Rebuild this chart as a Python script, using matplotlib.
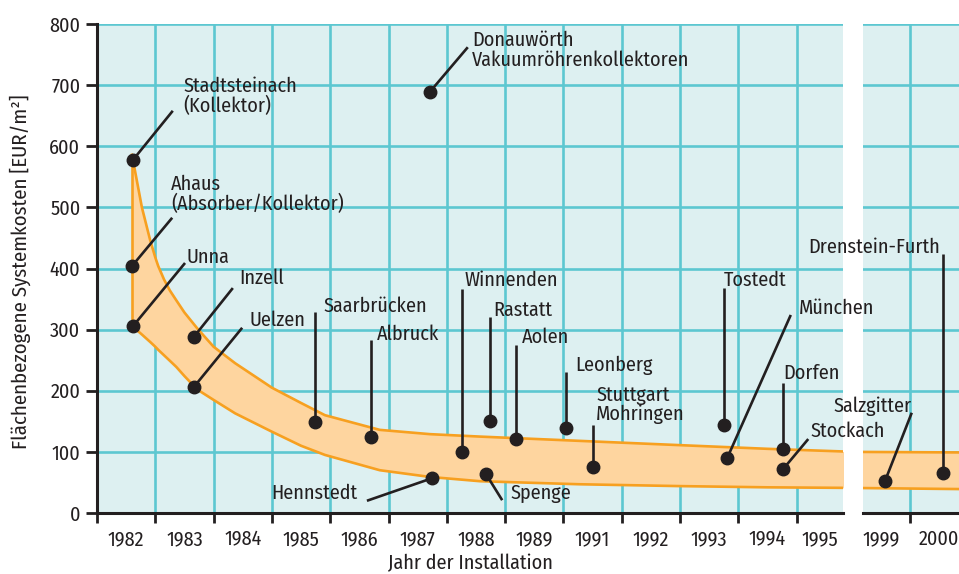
import matplotlib
matplotlib.use('Agg')
import matplotlib.pyplot as plt
from matplotlib import font_manager
import numpy as np

# ---------------- data ----------------
years_left = ['1982', '1983', '1984', '1985', '1986', '1987', '1988', '1989',
              '1991', '1992', '1993', '1994', '1995']
years_right = ['1999', '2000']

# cost band (x in category units, 0 = start of the 1982 column)
band_x = [0.60, 0.77, 0.91, 1.00, 1.05, 1.15, 1.25, 1.36, 1.50, 1.72, 2.00, 2.37,
          3.00, 3.50, 3.91, 4.85, 5.71, 6.57, 8.28, 10.0, 11.5, 13.0]
band_upper = [586, 500, 447, 418, 404, 382, 364, 348, 328, 302, 272, 245,
              205, 180, 160, 136, 129, 125, 118, 111, 105, 100]
band_lower = [306, 292, 280, 272, 267, 258, 249, 239, 224, 202, 185, 163,
              133, 110, 95, 70, 59, 52, 47, 44, 42, 41]
band_x_right = [0.0, 2.0]
band_upper_right = [100, 99]
band_lower_right = [41, 39]

sites_left = ['Stadtsteinach\n(Kollektor)', 'Ahaus\n(Absorber/Kollektor)', 'Unna',
              'Inzell', 'Uelzen', 'Saarbrücken', 'Albruck',
              'Donauwörth\nVakuumröhrenkollektoren', 'Hennstedt', 'Winnenden',
              'Spenge', 'Rastatt', 'Aolen', 'Leonberg', 'Stuttgart\nMohringen',
              'Tostedt', 'München', 'Dorfen', 'Stockach']
site_x_left = [0.62, 0.60, 0.62, 1.66, 1.66, 3.74, 4.70, 5.71, 5.75, 6.26,
               6.67, 6.74, 7.19, 8.04, 8.51, 10.75, 10.81, 11.77, 11.77]
site_cost_left = [578, 404, 306, 288, 206, 149, 124, 689, 57, 100,
                  64, 150, 121, 139, 75, 144, 90, 105, 72]

sites_right = ['Salzgitter', 'Drenstein-Furth']
site_x_right = [0.57, 1.57]
site_cost_right = [52, 65]

# ---------------- annotation layout (leader offset, text offset from leader end, alignment) ----------------
layout_left = [
    ((0.68, 80), (0.18, 24), 'left'),
    ((0.69, 79), (-0.02, 39), 'left'),
    ((0.89, 103), (0.02, 10), 'left'),
    ((0.67, 80), (0.11, 16), 'left'),
    ((0.83, 97), (0.13, 13), 'left'),
    ((0.0, 180), (0.15, 10), 'left'),
    ((0.0, 159), (0.10, 10), 'left'),
    ((0.65, 73), (0.07, -5), 'left'),
    ((-1.12, -37), (-0.17, 13), 'right'),
    ((0.0, 266), (0.04, 15), 'left'),
    ((0.28, -43), (0.15, 12), 'left'),
    ((0.0, 171), (0.05, 11), 'left'),
    ((0.0, 154), (0.10, 13), 'left'),
    ((0.0, 92), (0.16, 11), 'left'),
    ((0.0, 69), (0.05, 33), 'left'),
    ((0.0, 224), (0.0, 13), 'left'),
    ((1.09, 234), (0.14, 11), 'left'),
    ((0.0, 108), (0.0, 16), 'left'),
    ((0.43, 49), (0.03, 12), 'left'),
]
layout_right = [
    ((0.46, 112), (0.0, 11), 'right'),
    ((0.0, 359), (-0.06, 10), 'right'),
]

# ---------------- style ----------------
avail = {f.name for f in font_manager.fontManager.ttflist}
fam = [f for f in ('Fira Sans Condensed', 'Sofia Sans Semi Condensed', 'Liberation Sans Narrow')
       if f in avail][:1] + ['DejaVu Sans']
plt.rcParams['font.family'] = fam

TXT = '#231f20'
BG = '#ddf0f1'
GRID = '#5cc7d1'
ORANGE = '#f7a020'
FILL = '#fed59f'
FS = 14.5

W, H = 959, 574
fig = plt.figure(figsize=(W / 100, H / 100), dpi=100)

unit = 58.3  # px per category
left_px, right_px = 97, 843
top_px, bot_px = 24, 513
ax1 = fig.add_axes([left_px / W, (H - bot_px) / H, (right_px - left_px) / W, (bot_px - top_px) / H])
r_left_px, r_right_px = 863, 968
ax2 = fig.add_axes([r_left_px / W, (H - bot_px) / H, (r_right_px - r_left_px) / W, (bot_px - top_px) / H])

ax1.set_xlim(0, (right_px - left_px) / unit)
ax2.set_xlim(1 - (910 - r_left_px) / unit, 1 + (r_right_px - 910) / unit)

for ax in (ax1, ax2):
    ax.set_facecolor(BG)
    ax.set_ylim(0, 800)
    ax.set_yticks(np.arange(0, 801, 100))
    ax.grid(True, which='major', color=GRID, linewidth=1.9, zorder=0)
    ax.set_axisbelow(True)
    for s in ('top', 'right'):
        ax.spines[s].set_visible(False)
    ax.spines['bottom'].set_linewidth(2.2)
    ax.spines['bottom'].set_color(TXT)
    ax.tick_params(axis='x', which='major', direction='out', length=7, width=2.0,
                   color=TXT, labelbottom=False)
    ax.tick_params(axis='x', which='minor', length=0, pad=12, labelsize=FS, labelcolor=TXT)

ax1.spines['left'].set_linewidth(2.2)
ax1.spines['left'].set_color(TXT)
ax1.tick_params(axis='y', direction='out', length=8, width=2.0, color=TXT,
                labelsize=FS, labelcolor=TXT, pad=4)
ax2.spines['left'].set_visible(False)
ax2.tick_params(axis='y', length=0, labelleft=False)

ax1.set_xticks(np.arange(0, 13))
ax1.set_xticks([i + 0.5 for i in range(12)] + [(12 + ax1.get_xlim()[1]) / 2], minor=True)
ax1.set_xticklabels(years_left, minor=True)
ax2.set_xticks([1])
ax2.set_xticks([0.5, 1.5], minor=True)
ax2.set_xticklabels(years_right, minor=True)

# band
ax1.fill_between(band_x, band_lower, band_upper, color=FILL, zorder=1, linewidth=0)
ax1.plot(band_x, band_upper, color=ORANGE, lw=1.9, zorder=2)
ax1.plot(band_x, band_lower, color=ORANGE, lw=1.9, zorder=2)
ax1.plot([band_x[0], band_x[0]], [band_lower[0], band_upper[0]], color=ORANGE, lw=1.9, zorder=2)
ax2.fill_between(band_x_right, band_lower_right, band_upper_right, color=FILL, zorder=1, linewidth=0)
ax2.plot(band_x_right, band_upper_right, color=ORANGE, lw=1.9, zorder=2)
ax2.plot(band_x_right, band_lower_right, color=ORANGE, lw=1.9, zorder=2)


def annotate(ax, names, xs, ys, lay):
    for name, x, y, ((dx, dy), (tx, ty), ha) in zip(names, xs, ys, lay):
        ex, ey = x + dx, y + dy
        ax.plot([x, ex], [y, ey], color=TXT, lw=1.9, zorder=4, solid_capstyle='butt')
        fig.text(ex + tx, ey + ty, name, transform=ax.transData, ha=ha, va='center',
                 fontsize=FS, color=TXT, linespacing=1.0, zorder=6)
    ax.plot(xs, ys, 'o', color=TXT, ms=9, zorder=5)


annotate(ax1, sites_left, site_x_left, site_cost_left, layout_left)
annotate(ax2, sites_right, site_x_right, site_cost_right, layout_right)

fig.text((left_px + right_px) / 2 / W, 1 - 563 / H, 'Jahr der Installation', ha='center', va='center',
         fontsize=FS, color=TXT)
fig.text(20 / W, 1 - 272 / H, 'Flächenbezogene Systemkosten [EUR/m²]', rotation=90,
         ha='center', va='center', fontsize=15, color=TXT)

fig.savefig('out.png', dpi=100)
